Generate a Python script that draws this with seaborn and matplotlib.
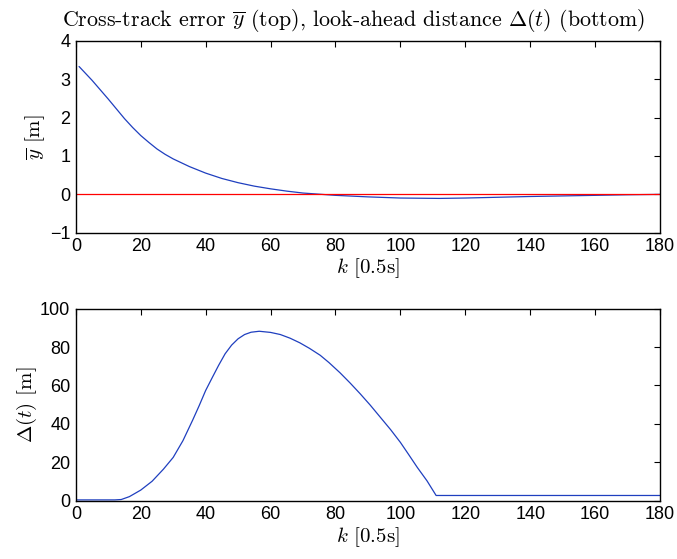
import numpy as np
import pandas as pd
import matplotlib
matplotlib.use("Agg")
import matplotlib.pyplot as plt
import seaborn as sns

# cross-track error (top panel)
k_top = [1, 5, 10, 15, 17.5, 20, 22.5, 25, 27.5, 30, 35, 40, 45, 50, 55, 60,
         65, 70, 75, 80, 90, 100, 112, 120, 130, 140, 150, 160, 170, 180]
ybar = [3.33, 2.97, 2.48, 1.97, 1.74, 1.53, 1.35, 1.18, 1.04, 0.92, 0.72, 0.55,
        0.41, 0.30, 0.21, 0.14, 0.08, 0.03, 0.0, -0.03, -0.07, -0.10, -0.11,
        -0.10, -0.08, -0.06, -0.045, -0.03, -0.015, -0.005]
ref_k = [0, 180]
ref_y = [0, 0]

# look-ahead distance (bottom panel)
k_bot = [0, 6, 12, 14, 16.5, 20, 23.5, 27, 30, 33, 36, 38, 40, 42, 44, 46,
         48, 50, 52, 54, 56.5, 60, 63, 66, 69, 72, 75.3, 78, 81.4, 84.5, 87.6,
         90.7, 93.8, 97, 100, 102.5, 105.2, 108.2, 111, 120, 140, 160, 180]
delta = [0.5, 0.5, 0.5, 0.7, 2.2, 5.6, 10.2, 16.5, 22.6, 31.3, 42, 49.5, 57.4,
         64, 70.5, 76.5, 81, 84.3, 86.5, 87.7, 88.2, 87.6, 86.5, 84.6, 82.2,
         79.3, 75.7, 71.9, 66.6, 61.3, 55.7, 49.8, 43.5, 37, 30.4, 24.2, 17.4,
         10.4, 2.8, 2.8, 2.8, 2.8, 2.8]

xticks = list(range(0, 181, 20))
yticks_top = [-1, 0, 1, 2, 3, 4]
yticks_bot = [0, 20, 40, 60, 80, 100]

sns.set_style("white")
plt.rcParams["font.family"] = ["Liberation Sans", "DejaVu Sans"]
plt.rcParams["mathtext.fontset"] = "cm"
plt.rcParams["axes.linewidth"] = 1.0
plt.rcParams["xtick.direction"] = "in"
plt.rcParams["ytick.direction"] = "in"
plt.rcParams["text.color"] = "black"
plt.rcParams["axes.labelcolor"] = "black"
plt.rcParams["xtick.color"] = "black"
plt.rcParams["ytick.color"] = "black"

df_top = pd.DataFrame({"k": k_top, "y": ybar})
df_ref = pd.DataFrame({"k": ref_k, "y": ref_y})
df_bot = pd.DataFrame({"k": k_bot, "d": delta})

fig = plt.figure(figsize=(6.77, 5.59), dpi=100)
ax1 = fig.add_axes([0.112, 0.584, 0.863, 0.343])
ax2 = fig.add_axes([0.112, 0.104, 0.863, 0.344])

sns.lineplot(data=df_top, x="k", y="y", ax=ax1, color="#1f3fbf", lw=0.9)
sns.lineplot(data=df_ref, x="k", y="y", ax=ax1, color="red", lw=0.9)
sns.lineplot(data=df_bot, x="k", y="d", ax=ax2, color="#1f3fbf", lw=0.9)

lab = dict(family="cmr10", fontsize=15)
ax1.set_title(r"Cross-track error $\overline{y}$ (top), look-ahead distance $\Delta(t)$ (bottom)",
              pad=11, family="cmr10", fontsize=15.8, x=0.475)
ax1.set_ylabel(r"$\overline{y}$ [m]", labelpad=2, **lab)
ax1.set_xlabel(r"$k$ [0.5s]", labelpad=1, **lab)
ax2.set_ylabel(r"$\Delta(t)$ [m]", labelpad=1, **lab)
ax2.set_xlabel(r"$k$ [0.5s]", labelpad=1, **lab)

ax1.set_xlim(0, 180)
ax1.set_ylim(-1, 4)
ax1.set_yticks(yticks_top)
ax2.set_xlim(0, 180)
ax2.set_ylim(0, 100)
ax2.set_yticks(yticks_bot)

for ax in (ax1, ax2):
    ax.set_xticks(xticks)
    ax.tick_params(top=True, right=True, length=4, width=0.8, labelsize=13,
                   pad=4, colors="black")
    for s in ax.spines.values():
        s.set_visible(True)
        s.set_color("black")

fig.savefig("out.png", dpi=100)
